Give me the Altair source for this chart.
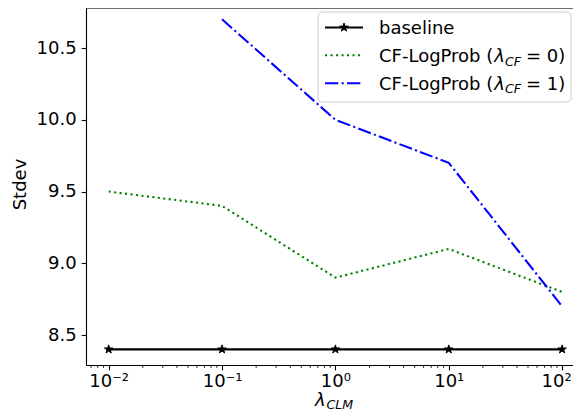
import altair as alt
import pandas as pd

# ---- data ----
lam = [0.01, 0.1, 1, 10, 100]
baseline = [8.4, 8.4, 8.4, 8.4, 8.4]
cf_lp0 = [9.5, 9.4, 8.9, 9.1, 8.8]
cf_lp1 = [None, 10.7, 10.0, 9.7, 8.7]
y_ticks = [8.5, 9.0, 9.5, 10.0, 10.5]
x_ticks = [0.01, 0.1, 1, 10, 100]
minor_ticks = [k * 10.0 ** e for e in range(-3, 3) for k in range(2, 10)]

X_DOMAIN = [10 ** -2.2, 10 ** 2.096]
Y_DOMAIN = [8.291, 10.779]
minor_ticks = [v for v in minor_ticks if X_DOMAIN[0] <= v <= X_DOMAIN[1]]

W, H = 487, 357
FONT = "DejaVu Sans"
FS = 18
SUB = 12.6

rows = []
for name, vals in [("baseline", baseline), ("cf0", cf_lp0), ("cf1", cf_lp1)]:
    for x, y in zip(lam, vals):
        if y is not None:
            rows.append({"lam": x, "stdev": y, "series": name})
df = pd.DataFrame(rows)
minor_df = pd.DataFrame({"v": minor_ticks})
one = pd.DataFrame({"k": [0]})

xscale = alt.Scale(type="log", domain=X_DOMAIN, nice=False)
yscale = alt.Scale(domain=Y_DOMAIN, nice=False, zero=False)

label_expr = ("datum.value < 0.05 ? '10⁻²' : datum.value < 0.5 ? '10⁻¹' : "
              "datum.value < 5 ? '10⁰' : datum.value < 50 ? '10¹' : '10²'")

xaxis = alt.Axis(values=x_ticks, labelExpr=label_expr, title=None, grid=False,
                 tickSize=4.9, tickWidth=1.1, tickColor="black",
                 domainColor="black", domainWidth=1.1,
                 labelFontSize=FS, labelColor="black", labelPadding=3,
                 labelOffset={"condition": {"test": "datum.value > 50", "value": -6},
                              "value": 0},
                 labelFont=FONT, labelFlush=False, labelFontWeight="normal")
yaxis = alt.Axis(values=y_ticks, format=".1f", title="Stdev", grid=False,
                 tickSize=4.9, tickWidth=1.1, tickColor="black",
                 domainColor="black", domainWidth=1.1,
                 labelFontSize=FS, labelColor="black", labelPadding=4.9,
                 labelFont=FONT, titleFont=FONT, titleFontSize=FS,
                 titleFontWeight="normal", titleColor="black",
                 titleAngle=-90, titleAlign="center", titleBaseline="middle",
                 titleX=-66, titleY=176)

X = alt.X("lam:Q", scale=xscale, axis=xaxis)
Y = alt.Y("stdev:Q", scale=yscale, axis=yaxis)

base = alt.Chart(df)

line_base = base.transform_filter(alt.datum.series == "baseline").mark_line(
    color="black", strokeWidth=2.08
).encode(x=X, y=Y)

STAR = ("M0,-1L0.225,-0.309L0.951,-0.309L0.363,0.118L0.588,0.809L0,0.382"
        "L-0.588,0.809L-0.363,0.118L-0.951,-0.309L-0.225,-0.309Z")

pts_base = base.transform_filter(alt.datum.series == "baseline").mark_point(
    shape=STAR, filled=True, color="black", size=80, opacity=1,
    stroke="black", strokeWidth=1
).encode(x=X, y=Y)

line_cf0 = base.transform_filter(alt.datum.series == "cf0").mark_line(
    color="#008000", strokeWidth=2.08, strokeDash=[2.1, 3.4]
).encode(x=X, y=Y)

line_cf1 = base.transform_filter(alt.datum.series == "cf1").mark_line(
    color="#0000ff", strokeWidth=2.08, strokeDash=[13.3, 3.3, 2.1, 3.3]
).encode(x=X, y=Y)

minor = alt.Chart(minor_df).mark_rule(color="black", strokeWidth=0.9).encode(
    x=alt.X("v:Q", scale=xscale, axis=xaxis),
    y=alt.value(H), y2=alt.value(H + 2.8))

top_spine = alt.Chart(one).mark_rule(color="black", strokeWidth=1.1).encode(
    x=alt.value(0), x2=alt.value(W), y=alt.value(0))

# ---- legend ----
leg_box = alt.Chart(one).mark_rect(
    fill="white", fillOpacity=0.8, stroke="#cccccc", strokeWidth=1, cornerRadius=4
).encode(x=alt.value(232), x2=alt.value(485), y=alt.value(4), y2=alt.value(94))

R1, R2, R3 = 19.5, 47.3, 75.2
LX1, LX2, LXM, TX = 239, 277, 258, 293


def seg(y, **kw):
    return alt.Chart(one).mark_rule(strokeWidth=2.08, **kw).encode(
        x=alt.value(LX1), x2=alt.value(LX2), y=alt.value(y))


def txt(t, x, y, size=FS, style="normal"):
    return alt.Chart(one).mark_text(
        text=t, font=FONT, fontSize=size, fontStyle=style, fontWeight="normal",
        fill="black", align="left", baseline="alphabetic"
    ).encode(x=alt.value(x), y=alt.value(y))


leg_star = alt.Chart(one).mark_point(
    shape=STAR, filled=True, color="black", size=80, opacity=1,
    stroke="black", strokeWidth=1
).encode(x=alt.value(LXM), y=alt.value(R1))

legend_layers = [
    leg_box,
    seg(R1, color="black"), leg_star,
    seg(R2, color="#008000", strokeDash=[2.1, 3.4]),
    seg(R3, color="#0000ff", strokeDash=[13.3, 3.3, 2.1, 3.3]),
    txt("baseline", TX, R1 + 6.7),
]
for ry, val in [(R2, "0"), (R3, "1")]:
    b = ry + 6.7
    legend_layers += [
        txt("CF-LogProb (", TX, b),
        txt("λ", TX + 115.3, b, style="italic"),
        txt("CF", TX + 126, b + 3.5, size=SUB, style="italic"),
        txt("= " + val + ")", TX + 147, b),
    ]

# ---- x axis title ----
xtitle = [
    txt("λ", 229, 397.5, style="italic"),
    txt("CLM", 240.5, 400.5, size=SUB, style="italic"),
]

chart = alt.layer(
    line_base, line_cf0, line_cf1, pts_base, minor, top_spine,
    *legend_layers, *xtitle
).properties(
    width=W, height=H,
    autosize=alt.AutoSizeParams(type="none"),
    padding={"left": 78, "top": 0, "right": 0, "bottom": 47},
).configure_view(stroke=None).configure(font=FONT)

chart.save("out.html", embed_options={"renderer": "svg", "actions": False})
